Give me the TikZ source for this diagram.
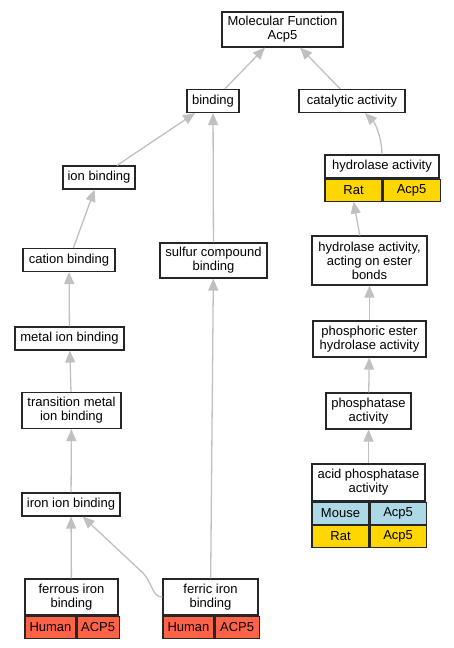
\documentclass[tikz,border=0pt]{standalone}
\usepackage{fontspec}
\setmainfont{Liberation Sans}
\usepackage{tikz}
\usetikzlibrary{arrows.meta}

\definecolor{human}{HTML}{FF6347}
\definecolor{mouse}{HTML}{ADD8E6}
\definecolor{rat}{HTML}{FFD700}
\definecolor{edgegray}{HTML}{C0C0C0}

\begin{document}
\begin{tikzpicture}[x=1pt,y=-1pt]
    \begin{scope}[
            term/.style={draw=black!85, line width=1.1pt, fill=white, align=center,
                inner sep=0pt, font=\fontsize{13}{14}\selectfont},
            cell/.style={draw=black!85, line width=1.1pt, inner sep=0pt, minimum height=22,
                anchor=north west, font=\fontsize{13}{14}\selectfont},
            isa/.style={draw=edgegray, line width=1.3pt, -{Triangle[length=12pt,width=10pt]}}
            ]
            
            \useasboundingbox (0,0) rectangle (453,648);
            
            % draws terms
            \node[term, minimum width=121, minimum height=35] (mf) at (282.5,29.5) {Molecular Function\\Acp5};
            \node[term, minimum width=52, minimum height=23] (binding) at (213,101) {binding};
            \node[term, minimum width=106, minimum height=23] (catalytic) at (352,101) {catalytic activity};
            \node[term, minimum width=72, minimum height=23] (ion) at (99,177.5) {ion binding};
            \node[term, minimum width=114, minimum height=23] (hyd) at (382,166.5) {hydrolase activity};
            \node[term, minimum width=92, minimum height=23] (cation) at (69,260) {cation binding};
            \node[term, minimum width=107, minimum height=35] (sulfur) at (213.5,260.5) {sulfur compound\\binding};
            \node[term, minimum width=115, minimum height=49] (acting) at (369.5,260.5) {hydrolase activity,\\acting on ester\\bonds};
            \node[term, minimum width=109, minimum height=23] (metal) at (69.5,338.5) {metal ion binding};
            \node[term, minimum width=113, minimum height=36] (phosphoric) at (369.5,339) {phosphoric ester\\hydrolase activity};
            \node[term, minimum width=99, minimum height=36] (transition) at (71.5,410.5) {transition metal\\ion binding};
            \node[term, minimum width=85, minimum height=36] (phosphatase) at (368.5,411) {phosphatase\\activity};
            \node[term, minimum width=113, minimum height=37] (acid) at (368.5,482.5) {acid phosphatase\\activity};
            \node[term, minimum width=98, minimum height=23] (ironion) at (71,504.5) {iron ion binding};
            \node[term, minimum width=93, minimum height=36] (ferrous) at (71.5,597) {ferrous iron\\binding};
            \node[term, minimum width=95, minimum height=36] (ferric) at (210.5,597) {ferric iron\\binding};
            
            % draws species rows
            \node[cell, fill=rat, minimum width=57] (hydRat) at (hyd.south west) {Rat};
            \node[cell, fill=rat, minimum width=57] (hydGene) at (hydRat.north east) {Acp5};
            \node[cell, fill=mouse, minimum width=57] (acidMouse) at (acid.south west) {Mouse};
            \node[cell, fill=mouse, minimum width=56] (acidMouseGene) at (acidMouse.north east) {Acp5};
            \node[cell, fill=rat, minimum width=57] (acidRat) at (acidMouse.south west) {Rat};
            \node[cell, fill=rat, minimum width=56] (acidRatGene) at (acidRat.north east) {Acp5};
            \node[cell, fill=human, minimum width=51] (ferrousHuman) at (ferrous.south west) {Human};
            \node[cell, fill=human, minimum width=42] (ferrousGene) at (ferrousHuman.north east) {ACP5};
            \node[cell, fill=human, minimum width=51] (ferricHuman) at (ferric.south west) {Human};
            \node[cell, fill=human, minimum width=44] (ferricGene) at (ferricHuman.north east) {ACP5};
            
            % draws edges
            \draw[isa] (binding) -- (mf);
            \draw[isa] (catalytic) -- (mf);
            \draw[isa] (ion) -- (binding);
            \draw[isa] (sulfur) -- (binding);
            \draw[isa] (cation) -- (ion);
            \draw[isa] (metal) -- (cation);
            \draw[isa] (transition) -- (metal);
            \draw[isa] (ironion) -- (transition);
            \draw[isa] (ferrous) -- (ironion);
            \draw[isa] (ferric) -- (sulfur);
            \draw[isa] (ferric.west) .. controls (152,597) and (153,584) .. (143,573) -- (ironion.-46);
            \draw[isa] (hyd.north) .. controls (382,140) and (376,124) .. (catalytic.-43);
            \draw[isa] (acting.111) -- (hydRat.south);
            \draw[isa] (phosphoric) -- (acting);
            \draw[isa] (phosphatase) -- (phosphoric);
            \draw[isa] (acid) -- (phosphatase);
    \end{scope}
\end{tikzpicture}
\end{document}
